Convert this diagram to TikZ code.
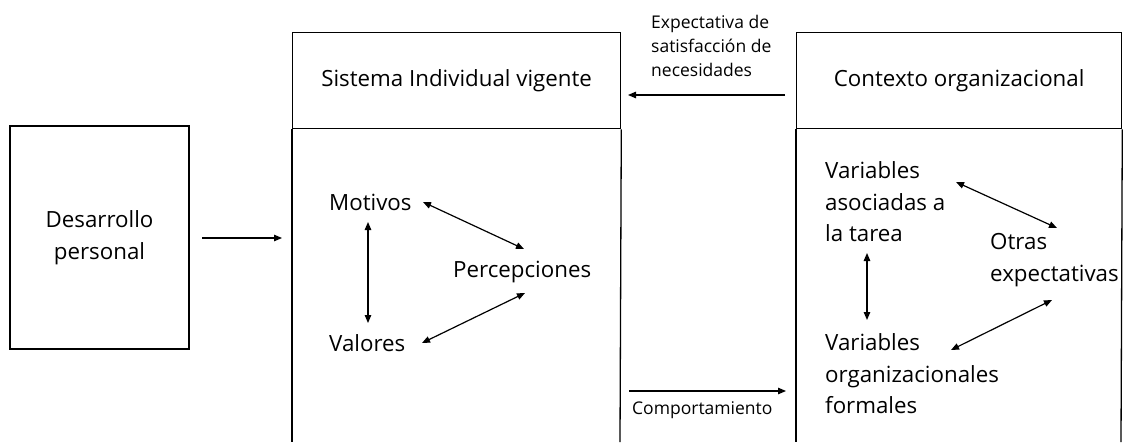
\documentclass[tikz,border=0pt]{standalone}
\usepackage{fontspec}
\setmainfont{Open Sans}
\usetikzlibrary{arrows.meta}
\begin{document}
\begin{tikzpicture}[x=1pt,y=-1pt,
  box/.style={draw, line width=1.3pt},
  lbl/.style={font=\fontsize{22.3}{31.5}\selectfont, inner sep=0pt, align=left},
  small/.style={font=\fontsize{17.5}{24}\selectfont, inner sep=0pt, align=left},
  arr/.style={line width=1.2pt, -{Triangle[length=8pt,width=6.5pt]}},
  darr/.style={line width=1.2pt, {Triangle[length=8pt,width=6.5pt]}-{Triangle[length=8pt,width=6.5pt]}}]
\useasboundingbox (0,0) rectangle (1125,442);

% left box
\node[box, lbl, align=center, minimum width=179pt, minimum height=223pt] (dev) at (99.5,237.5) {Desarrollo\\personal};

% middle box
\node[box, lbl, minimum width=328pt, minimum height=96pt, anchor=north west] (sis) at (292,32) {Sistema Individual vigente};
\coordinate (sisbl) at (292,442);
\coordinate (sisbr) at (620,442);
\draw[line width=1.3pt] (sis.south west) -- (sisbl);
\draw[line width=1.3pt] (sis.south east) -- (sisbr);

% right box
\node[box, lbl, minimum width=325pt, minimum height=96pt, anchor=north west] (ctx) at (796,32) {Contexto organizacional};
\coordinate (ctxbl) at (796,442);
\coordinate (ctxbr) at (1121,442);
\draw[line width=1.3pt] (ctx.south west) -- (ctxbl);
\draw[line width=1.3pt] (ctx.south east) -- (ctxbr);

% labels middle
\node[lbl, anchor=west] (mot) at (329,202) {Motivos};
\node[lbl, anchor=west] (perc) at (453,272) {Percepciones};
\node[lbl, anchor=west] (val) at (329,343) {Valores};

% labels right
\node[lbl, anchor=west] (vat) at (825,202) {Variables\\asociadas a\\la tarea};
\node[lbl, anchor=west] (otr) at (990,260) {Otras\\expectativas};
\node[lbl, anchor=west] (vof) at (825,374) {Variables\\organizacionales\\formales};

% small labels
\node[small, anchor=west] (exp) at (651,46) {Expectativa de\\satisfacción de\\necesidades};
\node[small, anchor=west] (comp) at (632,410) {Comportamiento};

% connector end points
\coordinate (devA) at (202,238);
\coordinate (sisA) at (282,238);
\coordinate (topA) at (785,95);
\coordinate (topB) at (628,95);
\coordinate (botA) at (629,391);
\coordinate (botB) at (786,391);
\coordinate (motA) at (423,202);
\coordinate (percA) at (524,249);
\coordinate (valA) at (422,343);
\coordinate (percB) at (525,293);
\coordinate (motB) at (368,222);
\coordinate (valB) at (368,323);
\coordinate (vatA) at (956,182);
\coordinate (otrA) at (1057,228);
\coordinate (vofA) at (951,350);
\coordinate (otrB) at (1052,300);
\coordinate (vatB) at (867,253);
\coordinate (vofB) at (867,320);

% connectors
\draw[arr] (devA) -- (sisA);
\draw[arr] (topA) -- (topB);
\draw[arr] (botA) -- (botB);
\draw[darr] (motA) -- (percA);
\draw[darr] (valA) -- (percB);
\draw[darr] (motB) -- (valB);
\draw[darr] (vatA) -- (otrA);
\draw[darr] (vofA) -- (otrB);
\draw[darr] (vatB) -- (vofB);
\end{tikzpicture}
\end{document}
